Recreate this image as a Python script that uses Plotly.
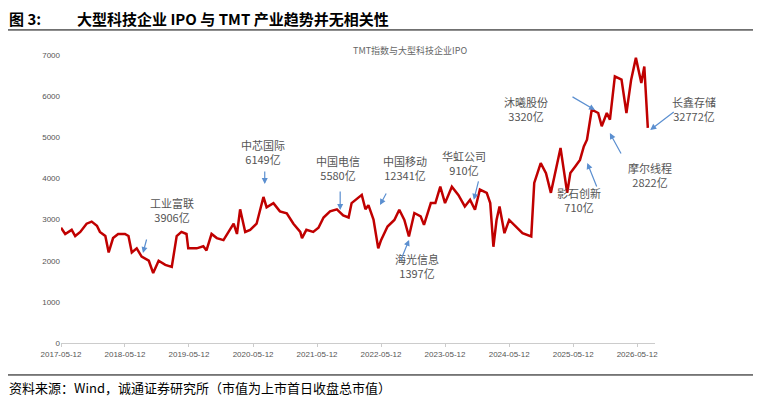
import plotly.graph_objects as go

dates = ["2017-05-12","2017-06-05","2017-07-12","2017-08-01","2017-08-30","2017-10-05","2017-11-03","2017-12-03","2017-12-20",
"2018-01-20","2018-02-08","2018-03-05","2018-04-03","2018-05-12","2018-06-01","2018-06-20","2018-07-18","2018-08-15","2018-09-25",
"2018-10-20","2018-11-20","2018-12-28","2019-02-03","2019-03-03","2019-03-30","2019-04-28","2019-05-08","2019-06-25","2019-08-02",
"2019-08-20","2019-09-18","2019-10-18","2019-11-25","2019-12-25","2020-01-22","2020-02-10","2020-02-28","2020-03-28","2020-04-25",
"2020-06-01","2020-07-10","2020-07-28","2020-09-05","2020-10-12","2020-11-20","2020-12-28","2021-02-05","2021-02-15","2021-03-12",
"2021-04-20","2021-05-20","2021-06-18","2021-07-25","2021-09-02","2021-10-08","2021-11-08","2021-11-25","2022-01-22","2022-02-12",
"2022-03-01","2022-03-30","2022-04-26",
"2022-05-12","2022-06-18","2022-07-27","2022-08-24","2022-09-22","2022-10-18","2022-11-18","2022-12-24","2023-01-12","2023-02-20",
"2023-03-18","2023-04-15","2023-05-12","2023-06-20","2023-07-27","2023-09-02","2023-10-02","2023-10-30","2023-11-27","2024-01-05",
"2024-01-25","2024-02-12","2024-03-01","2024-03-18","2024-04-15","2024-05-12","2024-06-20","2024-07-27","2024-09-15","2024-10-02",
"2024-11-08","2024-12-08","2025-01-05","2025-02-02","2025-03-01","2025-04-08","2025-04-26","2025-05-24","2025-06-20","2025-07-12",
"2025-07-30","2025-08-26","2025-10-02","2025-10-22","2025-11-20","2025-12-08","2026-01-05","2026-02-12","2026-03-12","2026-04-08",
"2026-05-05","2026-06-05","2026-06-22","2026-07-12"]
values = [2800,2650,2750,2600,2700,2900,2950,2850,2700,
2600,2200,2550,2650,2650,2600,2200,2300,2100,2000,
1700,2000,1900,1850,2600,2700,2650,2300,2300,2350,
2250,2650,2550,2500,2700,2900,2650,3250,2700,2750,
2900,3550,3300,3400,3200,3150,2900,2700,2550,2750,
2700,2800,3050,3200,3250,3100,3050,3400,3600,3250,
3350,3000,2300,
2500,2830,2990,3240,2990,2590,3160,3080,2870,3400,
3400,3800,3400,3800,3600,3320,3480,3240,3730,3650,
3400,2340,2990,3320,2670,2990,2830,2670,2590,3890,
4370,4130,3650,4210,4740,3650,4130,4290,4450,4780,
4940,5670,5590,5270,5590,5430,6480,6400,5590,6400,
6930,6320,6720,5230]

tick_vals = ["2017-05-12","2018-05-12","2019-05-12","2020-05-12","2021-05-12","2022-05-12","2023-05-12","2024-05-12","2025-05-12","2026-05-12"]

labels = ["工业富联<br>3906亿","中芯国际<br>6149亿","中国电信<br>5580亿","中国移动<br>12341亿","海光信息<br>1397亿",
          "华虹公司<br>910亿","沐曦股份<br>3320亿","影石创新<br>710亿","长鑫存储<br>32772亿","摩尔线程<br>2822亿"]
text_pos = [(0.146,0.462),(0.340,0.663),(0.466,0.608),(0.579,0.608),(0.599,0.208),(0.719,0.625),(0.823,0.872),(0.912,0.497),(1.106,0.872),(1.032,0.583)]
tips = [(0.138,0.3125,4,-15),(0.343,0.552,0,-14),(0.470,0.462,0,-20),(0.537,0.479,7,-13),(0.586,0.358,-9,22),
        (0.695,0.497,5,-20),(0.899,0.809,-24,-14),(0.886,0.625,10,25),(0.992,0.740,25,-19),(0.924,0.729,12,22)]

fig = go.Figure(go.Scatter(x=dates, y=values, mode="lines", line=dict(color="#c00000", width=2.5)))
F = "Noto Sans CJK SC"
ann = []
for t,(x,y) in zip(labels,text_pos):
    ann.append(dict(text=t, x=x, y=y, xref="paper", yref="paper", showarrow=False, font=dict(family=F,size=11,color="#555")))
for x,y,ax,ay in tips:
    ann.append(dict(text="", x=x, y=y, xref="paper", yref="paper", ax=ax, ay=ay, showarrow=True,
                    arrowhead=2, arrowsize=1, arrowwidth=1.2, arrowcolor="#5b8fd0"))
ann.append(dict(text="<b>图 3:</b>", x=-0.091, y=1.128, xref="paper", yref="paper", xanchor="left", yanchor="middle", showarrow=False, font=dict(family=F,size=15,color="#000")))
ann.append(dict(text="<b>大型科技企业 IPO 与 TMT 产业趋势并无相关性</b>", x=0.024, y=1.128, xref="paper", yref="paper", xanchor="left", yanchor="middle", showarrow=False, font=dict(family=F,size=15,color="#000")))
ann.append(dict(text="TMT指数与大型科技企业IPO", x=0.588, y=1.017, xref="paper", yref="paper", yanchor="middle", showarrow=False, font=dict(family=F,size=9,color="#666")))
ann.append(dict(text="资料来源：Wind，诚通证券研究所（市值为上市首日收盘总市值）", x=-0.091, y=-0.156, xref="paper", yref="paper", xanchor="left", yanchor="middle", showarrow=False, font=dict(family=F,size=13,color="#000")))

fig.update_layout(
    width=753, height=398, margin=dict(l=53, r=106, t=47, b=63),
    plot_bgcolor="white", paper_bgcolor="white", showlegend=False, annotations=ann,
    shapes=[dict(type="line", xref="paper", yref="paper", x0=-0.094, x1=1.17, y0=1.087, y1=1.087, line=dict(color="#000", width=1)),
            dict(type="line", xref="paper", yref="paper", x0=-0.094, x1=1.17, y0=-0.111, y1=-0.111, line=dict(color="#000", width=1))],
    xaxis=dict(range=["2017-05-12","2026-08-22"], tickvals=tick_vals, ticktext=tick_vals, showgrid=False,
               showline=True, linecolor="#ccc", ticks="outside", ticklen=3, tickcolor="#ccc",
               tickfont=dict(family="Arial", size=8, color="#555")),
    yaxis=dict(range=[0,7000], tickvals=[0,1000,2000,3000,4000,5000,6000,7000], showgrid=False, zeroline=False,
               tickfont=dict(family="Arial", size=8, color="#555")),
)
fig.write_html("out.html")
